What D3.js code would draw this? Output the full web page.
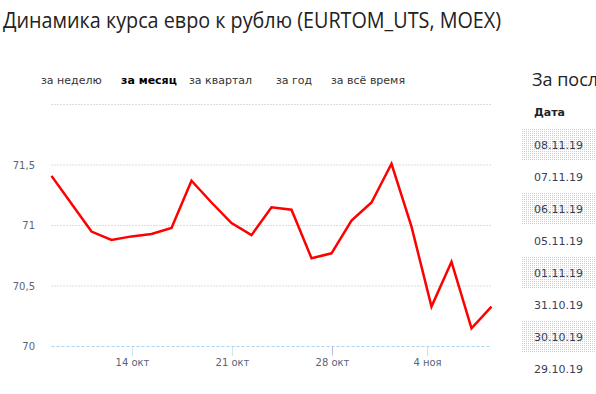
<!DOCTYPE html>
<meta charset="utf-8">
<style>
body { margin: 0; background: #fff; }
svg { display: block; }
.title { font-family: "Open Sans"; font-size: 21px; fill: #222; }
.tab { font-family: "DejaVu Sans"; font-size: 11px; fill: #333; }
.tab.active { font-weight: bold; fill: #000; }
.axis-label { font-family: "DejaVu Sans"; font-size: 10px; fill: #5b6478; }
.grid line { stroke: #bbb; stroke-dasharray: 1,2; }
.line { fill: none; stroke: #f00; stroke-width: 2.5px; stroke-linejoin: miter; }
.side-title { font-family: "Open Sans"; font-size: 18px; fill: #222; }
.side-head { font-family: "DejaVu Sans"; font-size: 11px; font-weight: bold; fill: #222; }
.side-date { font-family: "DejaVu Sans"; font-size: 11px; fill: #3a4055; }
</style>
<body>
<svg width="596" height="394"></svg>
<script src="https://d3js.org/d3.v7.min.js"></script>
<script>

// trading days, EURTOM_UTS close
var dates = ["08.10.19", "09.10.19", "10.10.19", "11.10.19", "14.10.19", "15.10.19", "16.10.19",
             "17.10.19", "18.10.19", "21.10.19", "22.10.19", "23.10.19", "24.10.19", "25.10.19",
             "28.10.19", "29.10.19", "30.10.19", "31.10.19", "01.11.19", "05.11.19", "06.11.19",
             "07.11.19", "08.11.19"];
var rates = [71.41, 71.18, 70.95, 70.88, 70.91, 70.93, 70.98,
             71.37, 71.19, 71.02, 70.92, 71.15, 71.13, 70.73,
             70.77, 71.04, 71.19, 71.51, 70.99, 70.33, 70.70,
             70.15, 70.33];

var yTicks = [70, 70.5, 71, 71.5];
var yGrid = [70.5, 71, 71.5, 72];
var xTickLabels = ["14 окт", "21 окт", "28 окт", "4 ноя"];
var xTickIndex = [4, 9, 14, 18.75];   // position in trading days

var tabs = ["за неделю", "за месяц", "за квартал", "за год", "за всё время"];
var activeTab = "за месяц";

var svg = d3.select("svg");

svg.append("text")
    .attr("class", "title")
    .attr("x", 3)
    .attr("y", 28)
    .attr("textLength", 498)
    .attr("lengthAdjust", "spacingAndGlyphs")
    .text("Динамика курса евро к рублю (EURTOM_UTS, MOEX)");

var tabX = [41, 121, 189, 276, 331];
svg.selectAll(".tab")
  .data(tabs)
  .enter().append("text")
    .attr("class", function(d) { return d === activeTab ? "tab active" : "tab"; })
    .attr("x", function(d, i) { return tabX[i]; })
    .attr("y", 84)
    .text(function(d) { return d; });

var x = d3.scaleLinear()
    .domain([0, dates.length - 1])
    .range([51.5, 491.5]);

var y = d3.scaleLinear()
    .domain([70, 72])
    .range([346.5, 104.5]);

// horizontal grid
svg.append("g")
    .attr("class", "grid")
  .selectAll("line")
  .data(yGrid)
  .enter().append("line")
    .attr("x1", x(0))
    .attr("x2", x(dates.length - 1))
    .attr("y1", function(d) { return y(d); })
    .attr("y2", function(d) { return y(d); });

var fmt = function(v) { return String(v).replace(".", ","); };

svg.selectAll(".ylab")
  .data(yTicks)
  .enter().append("text")
    .attr("class", "axis-label")
    .attr("x", 35)
    .attr("y", function(d) { return y(d); })
    .attr("dy", "0.35em")
    .attr("text-anchor", "end")
    .text(fmt);

// bottom axis line
svg.append("line")
    .attr("x1", x(0))
    .attr("x2", x(dates.length - 1))
    .attr("y1", y(70))
    .attr("y2", y(70))
    .attr("stroke", "#a9d3f0")
    .attr("stroke-dasharray", "3,2");

var xt = svg.selectAll(".xtick")
  .data(xTickIndex)
  .enter().append("g")
    .attr("transform", function(d) { return "translate(" + Math.round(x(d)) + ".5," + y(70) + ")"; });

xt.append("line")
    .attr("y1", 0)
    .attr("y2", 9)
    .attr("stroke", function(d) { return d === 14 ? "#b9b9dc" : "#8fd3e6"; })
    .attr("stroke-dasharray", function(d) { return d === 14 ? null : "1,1"; });

xt.append("text")
    .attr("class", "axis-label")
    .attr("y", 19)
    .attr("text-anchor", "middle")
    .text(function(d, i) { return xTickLabels[i]; });

var line = d3.line()
    .x(function(d, i) { return x(i); })
    .y(function(d) { return y(d); });

svg.append("path")
    .datum(rates)
    .attr("class", "line")
    .attr("d", line);

// side table: latest days
var defs = svg.append("defs");
var pat = defs.append("pattern")
    .attr("id", "dots")
    .attr("width", 2)
    .attr("height", 2)
    .attr("patternUnits", "userSpaceOnUse");
pat.append("rect").attr("width", 1).attr("height", 1).attr("fill", "#cfcfcf");

svg.append("text")
    .attr("class", "side-title")
    .attr("x", 532)
    .attr("y", 86)
    .text("За последние дни");

svg.append("text")
    .attr("class", "side-head")
    .attr("x", 534)
    .attr("y", 116)
    .text("Дата");

var recent = dates.slice(-8).reverse();

var rows = svg.selectAll(".row")
  .data(recent)
  .enter().append("g")
    .attr("transform", function(d, i) { return "translate(522," + (129 + i * 32) + ")"; });

rows.filter(function(d, i) { return i % 2 === 0; })
  .append("rect")
    .attr("width", 74)
    .attr("height", 31)
    .attr("fill", "url(#dots)");

rows.append("text")
    .attr("class", "side-date")
    .attr("x", 12)
    .attr("y", 16)
    .attr("dy", "0.35em")
    .text(function(d) { return d; });

</script>
</body>
